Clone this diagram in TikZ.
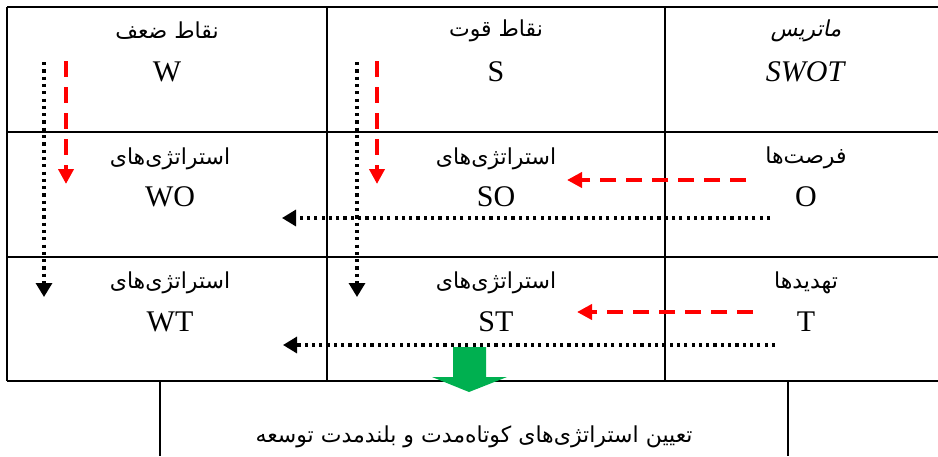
\documentclass[tikz,border=0pt]{standalone}
\usepackage{fontspec}
\usepackage{xcolor}
\usetikzlibrary{arrows.meta}
\setmainfont{Liberation Serif}
\newfontfamily\fa[Script=Arabic]{DejaVu Sans}
\newfontfamily\faslant[Script=Arabic,FakeSlant=0.2]{DejaVu Sans}
\TeXXeTstate=1
\definecolor{arrowred}{RGB}{255,0,0}
\definecolor{blockgreen}{RGB}{0,176,80}
\tikzset{
	lat/.style={font=\fontsize{15}{18}\selectfont, inner sep=0pt},
	per/.style={font=\fontsize{11}{14}\fa, inner sep=0pt},
	dotarrow/.style={line width=1.6pt, dash pattern=on 1.6pt off 2.05pt, -{Triangle[length=7pt,width=8pt]}},
	redarrow/.style={arrowred, line width=2pt, dash pattern=on 8pt off 5pt, -{Triangle[length=7.5pt,width=7.5pt]}}
}
\begin{document}
\begin{tikzpicture}[x=0.5pt,y=-0.5pt]
			\useasboundingbox (0,0) rectangle (938,456);
			\draw[line width=1pt] (7,7) -- (938,7);
			\draw[line width=1pt] (7,132) -- (938,132);
			\draw[line width=1pt] (7,257) -- (938,257);
			\draw[line width=1pt] (7,381) -- (938,381);
			\draw[line width=1pt] (7,7) -- (7,381);
			\draw[line width=1pt] (327,7) -- (327,381);
			\draw[line width=1pt] (665,7) -- (665,381);
			\draw[line width=1pt] (160,381) -- (160,456);
			\draw[line width=1pt] (788,381) -- (788,456);
			\node[per] (matrix) at (806,31){\faslant\beginR ماتریس\endR};
			\node[lat] (swot) at (806,72){\textit{SWOT}};
			\node[per] (weak) at (167,31){\beginR نقاط ضعف\endR};
			\node[lat] (w) at (167,72){W};
			\node[per] (strong) at (496,31){\beginR نقاط قوت\endR};
			\node[lat] (s) at (496,72){S};
			\node[per] (opp) at (806,158){\beginR فرصت‌ها\endR};
			\node[lat] (o) at (806,197){O};
			\node[per] (threat) at (806,283){\beginR تهدیدها\endR};
			\node[lat] (t) at (806,322){T};
			\node[per] (wostr) at (170,159){\beginR استراتژی‌های\endR};
			\node[lat] (wo) at (170,197){WO};
			\node[per] (sostr) at (496,159){\beginR استراتژی‌های\endR};
			\node[lat] (so) at (496,197){SO};
			\node[per] (wtstr) at (170,283){\beginR استراتژی‌های\endR};
			\node[lat] (wt) at (170,322){WT};
			\node[per] (ststr) at (496,283){\beginR استراتژی‌های\endR};
			\node[lat] (st) at (496,322){ST};
			\node[per] (goal) at (474,437){\beginR تعیین استراتژی‌های کوتاه‌مدت و بلندمدت توسعه\endR};
			\coordinate (wtop) at (44,62);
			\coordinate (wbot) at (44,297);
			\coordinate (stop) at (357,62);
			\coordinate (sbot) at (357,297);
			\coordinate (wrtop) at (66,61);
			\coordinate (wrbot) at (66,184);
			\coordinate (srtop) at (377,61);
			\coordinate (srbot) at (377,184);
			\coordinate (oright) at (746,180);
			\coordinate (oleft) at (567,180);
			\coordinate (tright) at (753,312);
			\coordinate (tleft) at (577,312);
			\coordinate (odot) at (770,218);
			\coordinate (odotend) at (282,218);
			\coordinate (tdot) at (775,345);
			\coordinate (tdotend) at (283,345);
			\draw[dotarrow] (wtop) -- (wbot);
			\draw[dotarrow] (stop) -- (sbot);
			\draw[dotarrow] (odot) -- (odotend);
			\draw[dotarrow] (tdot) -- (tdotend);
			\draw[redarrow] (wrtop) -- (wrbot);
			\draw[redarrow] (srtop) -- (srbot);
			\draw[redarrow] (oright) -- (oleft);
			\draw[redarrow] (tright) -- (tleft);
			\fill[blockgreen] (453,347) -- (486,347) -- (486,377) -- (507,377) -- (469,392) -- (432,377) -- (453,377) -- cycle;
		\end{tikzpicture}
\end{document}
